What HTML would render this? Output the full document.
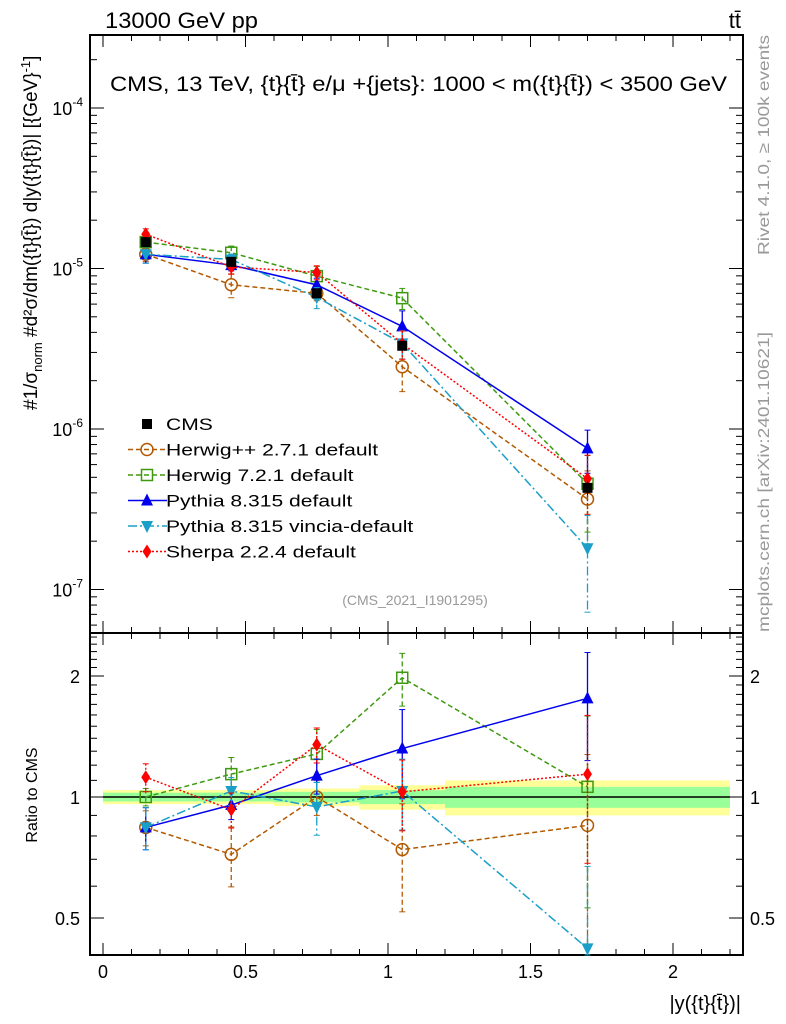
<!DOCTYPE html>
<html><head><meta charset="utf-8"><style>
body{margin:0;background:#fff;}
svg{display:block;font-family:"Liberation Sans",sans-serif;}
</style></head><body>
<svg id="c" width="786" height="1024" viewBox="0 0 786 1024" xmlns="http://www.w3.org/2000/svg">
<text x="105" y="28" font-size="22" textLength="153" lengthAdjust="spacingAndGlyphs">13000 GeV pp</text>
<text x="741" y="28" font-size="22" text-anchor="end">tt̄</text>
<text x="110" y="91" font-size="21" textLength="617" lengthAdjust="spacingAndGlyphs">CMS, 13 TeV, {t}{t̄} e/μ +{jets}: 1000 &lt; m({t}{t̄}) &lt; 3500 GeV</text>
<text x="415" y="605" font-size="14" fill="#999" text-anchor="middle">(CMS_2021_I1901295)</text>
<text transform="translate(769,255) rotate(-90)" font-size="16" fill="#999" textLength="220" lengthAdjust="spacingAndGlyphs">Rivet 4.1.0, ≥ 100k events</text>
<text transform="translate(769,632) rotate(-90)" font-size="16" fill="#999" textLength="300" lengthAdjust="spacingAndGlyphs">mcplots.cern.ch [arXiv:2401.10621]</text>
<text transform="translate(37,410) rotate(-90)" font-size="19">#1/σ<tspan font-size="13" dy="5">norm</tspan><tspan dy="-5"> #d²σ/dm({t}{t̄}) d|y({t}{t̄})| [{GeV}</tspan><tspan font-size="13" dy="-7">-1</tspan><tspan dy="7">]</tspan></text>
<text transform="translate(37,795) rotate(-90)" font-size="16" text-anchor="middle">Ratio to CMS</text>
<text x="741" y="1010" font-size="20" text-anchor="end">|y({t}{t̄})|</text>
<g id="g"></g>
</svg>
<script>
const xVals=[0.15,0.45,0.75,1.05,1.7];
const cmsVals=[1.46e-5,1.10e-5,7.0e-6,3.3e-6,4.3e-7];
const cmsErr=[0.03,0.04,0.05,0.06,0.1];
const bandEdges=[0,0.3,0.6,0.9,1.2,2.2];
const bandYellow=[0.04,0.04,0.05,0.07,0.1];
const bandGreen=[0.025,0.025,0.03,0.04,0.06];
const rHerwigPP=[0.84,0.72,1.0,0.74,0.85];
const rHerwig7=[1.0,1.14,1.28,1.98,1.06];
const rPythia=[0.84,0.955,1.13,1.32,1.76];
const rVincia=[0.84,1.035,0.945,1.035,0.42];
const rSherpa=[1.12,0.93,1.35,1.03,1.14];
const eHerwigPP=[0.1,0.17,0.1,0.3,0.5];
const eHerwig7=[0.05,0.1,0.15,0.15,0.5];
const ePythia=[0.12,0.08,0.1,0.25,0.3];
const eVincia=[0.12,0.08,0.15,0.2,0.6];
const eSherpa=[0.08,0.1,0.1,0.2,0.4];
const legendLabels=["CMS","Herwig++ 2.7.1 default","Herwig 7.2.1 default","Pythia 8.315 default","Pythia 8.315 vincia-default","Sherpa 2.2.4 default"];

const L=90,R=743,T=35,MB=633,B=955;
const X=v=>103+v*285;
const Y=v=>108-(Math.log10(v)+4)*160.5;
const YR=r=>797-Math.log2(r)*121;
const NS="http://www.w3.org/2000/svg";
const g=document.getElementById('g');
function mk(tag,at,parent){const e=document.createElementNS(NS,tag);for(const k in at)e.setAttribute(k,at[k]);(parent||g).appendChild(e);return e;}

for(let i=0;i<5;i++){
  const y=mk('rect',{x:X(bandEdges[i]),y:YR(1+bandYellow[i]),width:X(bandEdges[i+1])-X(bandEdges[i]),height:YR(1-bandYellow[i])-YR(1+bandYellow[i]),fill:'#ffff99'});
  
  
  const gr=mk('rect',{x:X(bandEdges[i]),y:YR(1+bandGreen[i]),width:X(bandEdges[i+1])-X(bandEdges[i]),height:YR(1-bandGreen[i])-YR(1+bandGreen[i]),fill:'#99ff99'});
  
  
}
const ref=mk('line',{x1:X(0),x2:X(2.2),y1:YR(1),y2:YR(1),stroke:'#000','stroke-width':1.5});



const f1=mk('rect',{x:L,y:T,width:R-L,height:MB-T,fill:'none',stroke:'#000','stroke-width':2});


const f2=mk('rect',{x:L,y:MB,width:R-L,height:B-MB,fill:'none',stroke:'#000','stroke-width':2});



for(let k=0;k<=22;k++){
  const v=k/10, x=X(v), major=k%5==0, len=major?12:6;
  [[T,1],[MB,-1],[MB,1],[B,-1]].forEach(([y0,d])=>{mk('line',{x1:x,x2:x,y1:y0,y2:y0+d*len,stroke:'#000','stroke-width':1});});
  if(major){const t=mk('text',{x:x,y:978,'font-size':18,'text-anchor':'middle'});t.textContent=String(v);
    
    }
}
for(let e=-8;e<=-3;e++){for(let m=1;m<10;m++){const v=m*Math.pow(10,e),y=Y(v);if(y<T||y>MB)continue;const len=m==1?14:7;
  mk('line',{x1:L,x2:L+len,y1:y,y2:y,stroke:'#000'});mk('line',{x1:R,x2:R-len,y1:y,y2:y,stroke:'#000'});
  if(m==1){const t=mk('text',{x:83,y:y+7,'font-size':18,'text-anchor':'end'});t.innerHTML='10<tspan font-size="12" dy="-9">'+e+'</tspan>';
    
    }}}
for(let k=5;k<=25;k++){const r=k/10,y=YR(r);if(y<MB||y>B)continue;const major=(k==5||k==10||k==20),len=major?14:7;
  mk('line',{x1:L,x2:L+len,y1:y,y2:y,stroke:'#000'});mk('line',{x1:R,x2:R-len,y1:y,y2:y,stroke:'#000'});
  if(major){const lab=String(r);
    const t=mk('text',{x:80,y:y+7,'font-size':18,'text-anchor':'end'});t.textContent=lab;
    
    
    const t2=mk('text',{x:750,y:y+7,'font-size':18});t2.textContent=lab;
    
    }}

function marker(type,x,y,col,parent){
  if(type=='sq')mk('rect',{x:x-5,y:y-5,width:10,height:10,fill:'#000'},parent);
  else if(type=='circ')mk('circle',{cx:x,cy:y,r:6,fill:'none',stroke:col,'stroke-width':1.5},parent);
  else if(type=='osq')mk('rect',{x:x-5.5,y:y-5.5,width:11,height:11,fill:'none',stroke:col,'stroke-width':1.5},parent);
  else if(type=='up')mk('polygon',{points:`${x},${y-7} ${x-6},${y+5} ${x+6},${y+5}`,fill:col},parent);
  else if(type=='dn')mk('polygon',{points:`${x},${y+7} ${x-6},${y-5} ${x+6},${y-5}`,fill:col},parent);
  else if(type=='dia')mk('polygon',{points:`${x},${y-7} ${x-4.5},${y} ${x},${y+7} ${x+4.5},${y}`,fill:col},parent);
}
const series=[
 {r:rHerwigPP,e:eHerwigPP,col:'#b35900',dash:'5,3',m:'circ',name:'herwigpp'},
 {r:rHerwig7,e:eHerwig7,col:'#3d9a0f',dash:'5,3',m:'osq',name:'herwig7'},
 {r:rPythia,e:ePythia,col:'#0000ee',dash:'',m:'up',name:'pythia'},
 {r:rVincia,e:eVincia,col:'#1a9fc8',dash:'9,3,2,3',m:'dn',name:'vincia'},
 {r:rSherpa,e:eSherpa,col:'#ff0000',dash:'2,2',m:'dia',name:'sherpa'}];
series.forEach(s=>{
  const main=s.r.map((r,i)=>r*cmsVals[i]);
  [[main,Y,T,MB],[s.r,YR,MB,B]].forEach(([vals,f,top,bot],pi)=>{
    const grp=mk('g',{});
    
    
    const pts=vals.map((v,i)=>X(xVals[i])+','+Math.min(bot,Math.max(top,f(v)))).join(' ');
    mk('polyline',{points:pts,fill:'none',stroke:s.col,'stroke-width':1.5,'stroke-dasharray':s.dash},grp);
    vals.forEach((v,i)=>{const x=X(xVals[i]);const y1=Math.max(top,f(v*(1+s.e[i]))),y2=Math.min(bot,f(Math.max(v*(1-s.e[i]),1e-9)));
      mk('line',{x1:x,x2:x,y1:y1,y2:y2,stroke:s.col,'stroke-width':1.3,'stroke-dasharray':s.dash},grp);
      mk('line',{x1:x-3,x2:x+3,y1:y1,y2:y1,stroke:s.col},grp);mk('line',{x1:x-3,x2:x+3,y1:y2,y2:y2,stroke:s.col},grp);
      marker(s.m,x,Math.min(bot,f(v)),s.col,grp);});
  });
});
const cg=mk('g',{});


cmsVals.forEach((v,i)=>{const x=X(xVals[i]);mk('line',{x1:x,x2:x,y1:Y(v*(1+cmsErr[i])),y2:Y(v*(1-cmsErr[i])),stroke:'#000'},cg);marker('sq',x,Y(v),'#000',cg);});

const lg=mk('g',{});


const legStyles=[{m:'sq',col:'#000',dash:null}].concat(series);
legendLabels.forEach((lab,i)=>{const y=424+i*25.5;const s=legStyles[i];
  const ent=mk('g',{},lg);
  
  
  if(i>0)mk('line',{x1:128,x2:167,y1:y,y2:y,stroke:s.col,'stroke-width':1.5,'stroke-dasharray':s.dash},ent);
  marker(s.m,147,y,s.col,ent);
  const t=mk('text',{x:166,y:y+6,'font-size':17},ent);t.textContent=lab;
  const w=t.getComputedTextLength();
  t.setAttribute('textLength',(w*1.24).toFixed(1));
  t.setAttribute('lengthAdjust','spacingAndGlyphs');});
</script>
</body></html>
